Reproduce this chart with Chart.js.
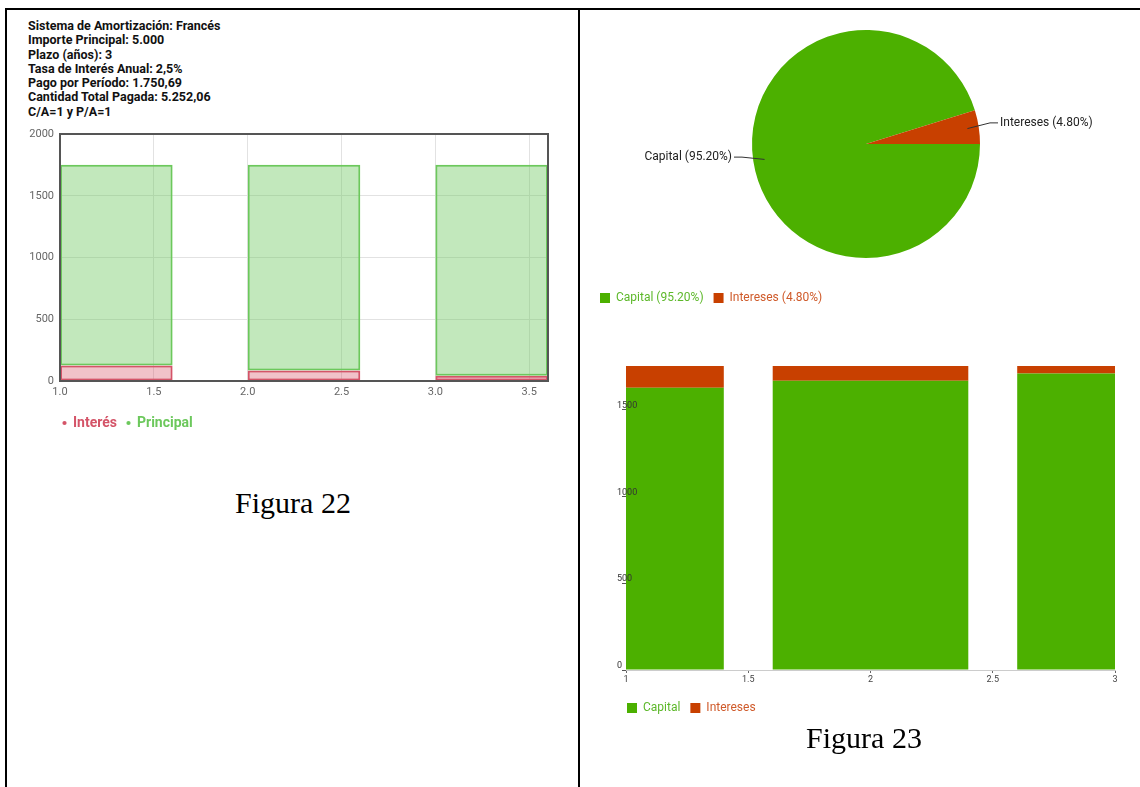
<!DOCTYPE html>
<html><head><meta charset="utf-8">
<script src="https://cdn.jsdelivr.net/npm/chart.js@4.4.0/dist/chart.umd.min.js"></script>
<style>
html,body{margin:0;padding:0;background:#fff;}
body{width:1140px;height:787px;position:relative;overflow:hidden;font-family:Roboto,sans-serif;}
.line{position:absolute;background:#000;}
.info{position:absolute;left:28px;top:19px;font:bold 12.5px/14.3px Roboto,sans-serif;color:#111;white-space:pre;}
.fig{position:absolute;font:30px/30px "Liberation Serif","Times New Roman",serif;color:#000;text-align:center;width:300px;}
.wrap{position:absolute;}
</style></head><body>
<div class="line" style="left:5px;top:8px;width:1135px;height:2px"></div>
<div class="line" style="left:5px;top:8px;width:2px;height:779px"></div>
<div class="line" style="left:578px;top:8px;width:2px;height:779px"></div>
<div class="info" id="info"></div>
<div class="wrap" style="left:20px;top:120px;width:540px;height:320px"><canvas id="c1"></canvas></div>
<div class="wrap" style="left:590px;top:0px;width:552px;height:314px"><canvas id="c2"></canvas></div>
<div class="wrap" style="left:590px;top:340px;width:550px;height:384px"><canvas id="c3"></canvas></div>
<div class="fig" id="fig1" style="left:143px;top:488px"></div>
<div class="fig" id="fig2" style="left:714px;top:723px"></div>
<script>
// ---- data ----
const infoLines = ['Sistema de Amortización: Francés','Importe Principal: 5.000','Plazo (años): 3','Tasa de Interés Anual: 2,5%','Pago por Período: 1.750,69','Cantidad Total Pagada: 5.252,06','C/A=1 y P/A=1'];
const periods = [1, 2, 3];
const interest = [125.00, 84.36, 42.70];
const principal = [1625.69, 1666.33, 1707.99];
const seriesNames1 = ['Interés', 'Principal'];
const pieLabels = ['Capital (95.20%)', 'Intereses (4.80%)'];
const pieValues = [5000, 252.06];
const seriesNames2 = ['Capital', 'Intereses'];
const yTicks2 = [0, 500, 1000, 1500];
const captions = ['Figura 22', 'Figura 23'];

document.getElementById('info').textContent = infoLines.join('\n');
document.getElementById('fig1').textContent = captions[0];
document.getElementById('fig2').textContent = captions[1];

Chart.defaults.font.family = 'Roboto, sans-serif';
Chart.defaults.animation = false;

const legendShift = {id:'legendShift', afterLayout(chart, args, opts){
  const lg = chart.legend; if (lg && opts && opts.dx) { lg.left += opts.dx; lg.right += opts.dx; }
}};

// ---- chart 1 ----
const X1_STEP = 0.5, BAR1_WIDTH = 0.6;
const red1 = 'rgb(212,84,104)', green1 = 'rgb(108,200,92)';
const legendColors1 = [red1, green1];
const frame = {id:'frame', afterDraw(chart){const {ctx, chartArea:a}=chart; ctx.save(); ctx.strokeStyle='#555'; ctx.lineWidth=2; ctx.strokeRect(a.left, a.top, a.width, a.height); ctx.restore();}};
new Chart(document.getElementById('c1'), {
  type:'bar',
  data:{datasets:[
    {label:seriesNames1[0], data:periods.map((p,i)=>({x:p+BAR1_WIDTH/2, y:interest[i]})), backgroundColor:'rgba(215,80,100,0.35)', borderColor:red1, borderWidth:2, borderSkipped:false, barPercentage:BAR1_WIDTH/X1_STEP, categoryPercentage:1},
    {label:seriesNames1[1], data:periods.map((p,i)=>({x:p+BAR1_WIDTH/2, y:principal[i]})), backgroundColor:'rgba(110,200,95,0.42)', borderColor:green1, borderWidth:2, borderSkipped:false, barPercentage:BAR1_WIDTH/X1_STEP, categoryPercentage:1}
  ]},
  options:{
    responsive:true, maintainAspectRatio:false,
    layout:{padding:{left:0, right:12, top:14, bottom:0}},
    scales:{
      x:{type:'linear', min:1, max:3.6, stacked:true, offset:false, afterFit(s){s.height=25;},
         ticks:{stepSize:X1_STEP, includeBounds:false, callback:v=>Number(v).toFixed(1), padding:5, color:'#666', font:{size:11}, maxRotation:0, autoSkip:false},
         grid:{color:'#e2e2e2', drawTicks:false, offset:false}, border:{display:false}},
      y:{min:0, max:2000, stacked:true, afterFit(s){s.width=40;},
         ticks:{stepSize:500, callback:v=>String(v), padding:6, color:'#666', font:{size:11}},
         grid:{color:'#e2e2e2', drawTicks:false}, border:{display:false}}
    },
    plugins:{
      tooltip:{enabled:false},
      legendShift:{dx:33},
      legend:{position:'bottom', align:'start', labels:{usePointStyle:true, pointStyle:'circle', boxWidth:3, boxHeight:3, font:{size:14, weight:'bold'},
        generateLabels(chart){const items = Chart.defaults.plugins.legend.labels.generateLabels(chart); items.forEach((it,i)=>{const c=legendColors1[i]; it.fillStyle=c; it.strokeStyle=c; it.fontColor=c; it.lineWidth=0; it.pointStyle='circle';}); return items;}}}
    }
  },
  plugins:[frame, legendShift]
});

// ---- chart 2 (pie) ----
const pieColors = ['#4CB000', '#C84000'];
const pieTextColors = ['#5DB82A', '#CF5A2A'];
const pieLabelPlugin = {id:'pieLabels', afterDatasetsDraw(chart){
  const ctx = chart.ctx; const meta = chart.getDatasetMeta(0);
  ctx.save(); ctx.font = '12px Roboto, sans-serif'; ctx.textBaseline='middle'; ctx.strokeStyle='#333'; ctx.fillStyle='#222'; ctx.lineWidth=1;
  meta.data.forEach((arc,i)=>{
    const p = arc.getProps(['x','y','startAngle','endAngle','outerRadius'], true);
    const mid = (p.startAngle+p.endAngle)/2, r = p.outerRadius;
    const c = Math.cos(mid), s = Math.sin(mid), side = c >= 0 ? 1 : -1;
    const sx = p.x + c*r*0.9, sy = p.y + s*r*0.9;
    const ly = p.y + s*r - 4;
    ctx.beginPath(); ctx.moveTo(sx, sy); ctx.lineTo(p.x + side*(r+10), ly); ctx.lineTo(p.x + side*(r+18), ly); ctx.stroke();
    ctx.textAlign = side > 0 ? 'left' : 'right';
    ctx.fillText(chart.data.labels[i], p.x + side*(r+20), ly);
  });
  ctx.restore();
}};
new Chart(document.getElementById('c2'), {
  type:'pie',
  data:{labels:pieLabels, datasets:[{data:pieValues, backgroundColor:pieColors, borderWidth:0}]},
  options:{
    responsive:true, maintainAspectRatio:false, rotation:90, radius:114,
    layout:{padding:{left:0, right:0, top:6, bottom:0}},
    plugins:{
      tooltip:{enabled:false},
      legend:{position:'bottom', align:'start', labels:{boxWidth:10, boxHeight:10, font:{size:12},
        generateLabels(){return pieLabels.map((t,i)=>({text:t, fillStyle:pieColors[i], strokeStyle:pieColors[i], lineWidth:0, fontColor:pieTextColors[i], hidden:false, index:i}));}}}
    }
  },
  plugins:[pieLabelPlugin]
});

// ---- chart 3 (stacked bars) ----
const X2_STEP = 0.5, BAR2_WIDTH = 0.8;
const yMax2 = Math.max(...periods.map((_,i)=>principal[i]+interest[i]));
new Chart(document.getElementById('c3'), {
  type:'bar',
  data:{datasets:[
    {label:seriesNames2[0], data:periods.map((p,i)=>({x:p, y:principal[i]})), backgroundColor:pieColors[0], borderWidth:0, barPercentage:BAR2_WIDTH/X2_STEP, categoryPercentage:1},
    {label:seriesNames2[1], data:periods.map((p,i)=>({x:p, y:interest[i]})), backgroundColor:pieColors[1], borderWidth:0, barPercentage:BAR2_WIDTH/X2_STEP, categoryPercentage:1}
  ]},
  options:{
    responsive:true, maintainAspectRatio:false,
    layout:{padding:{left:0, right:25, top:26, bottom:0}},
    scales:{
      x:{type:'linear', min:1, max:3, stacked:true, offset:false, afterFit(s){s.height=22;},
         ticks:{stepSize:X2_STEP, callback:v=>String(Number(v)), padding:1, color:'#444', font:{size:9}, maxRotation:0, autoSkip:false},
         grid:{drawOnChartArea:false, offset:false, tickLength:3, tickColor:'#666'}, border:{color:'#ccc'}},
      y:{min:0, max:yMax2, stacked:true, afterFit(s){s.width=36;},
         afterBuildTicks(s){ s.ticks = yTicks2.map(v=>({value:v})); },
         ticks:{z:1, mirror:true, padding:-9, labelOffset:-4, callback:v=>String(v), color:'#333', font:{size:9}},
         grid:{z:1, drawOnChartArea:false, tickLength:4, tickColor:'#555'}, border:{display:false}}
    },
    plugins:{
      tooltip:{enabled:false},
      legendShift:{dx:27},
      legend:{position:'bottom', align:'start', labels:{boxWidth:10, boxHeight:10, font:{size:12},
        generateLabels(){return seriesNames2.map((t,i)=>({text:t, fillStyle:pieColors[i], strokeStyle:pieColors[i], lineWidth:0, fontColor:pieTextColors[i], hidden:false, datasetIndex:i}));}}}
    }
  },
  plugins:[legendShift]
});
</script>
</body></html>
